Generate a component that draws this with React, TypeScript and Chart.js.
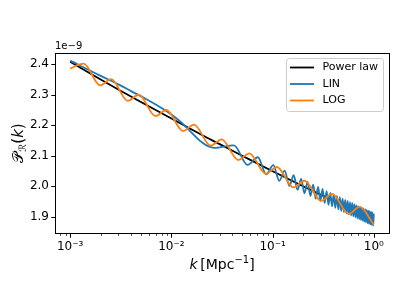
import React, { useEffect, useRef } from 'react';
import { Chart, registerables } from 'chart.js';

Chart.register(...registerables);

// ---- data (units of 1e-9) ----
const POWER_K = [0.001, 0.002, 0.003, 0.005, 0.01, 0.02, 0.03, 0.05, 0.1, 0.2, 0.3, 0.5, 1.0];
const POWER_P = [2.408, 2.350, 2.317, 2.276, 2.222, 2.168, 2.138, 2.100, 2.049, 2.000, 1.972, 1.937, 1.891];

const LIN_K = [
  0.001, 0.002, 0.003, 0.004, 0.0055, 0.007, 0.009, 0.0115,
  0.0265, 0.0415, 0.0565, 0.0715, 0.0865, 0.1015, 0.1165, 0.1315, 0.1465, 0.1615,
  0.1765, 0.1915, 0.2065, 0.2215, 0.2365, 0.2515, 0.2665, 0.2815, 0.2965, 0.3115,
  0.3265, 0.3415, 0.3565, 0.3715, 0.3865, 0.4015, 0.4165, 0.4315, 0.4465, 0.4615,
  0.4765, 0.4915, 0.5065, 0.5215, 0.5365, 0.5515, 0.5665, 0.5815, 0.5965, 0.6115,
  0.6265, 0.6415, 0.6565, 0.6715, 0.6865, 0.7015, 0.7165, 0.7315, 0.7465, 0.7615,
  0.7765, 0.7915, 0.8065, 0.8215, 0.8365, 0.8515, 0.8665, 0.8815, 0.8965, 0.9115,
  0.9265, 0.9415, 0.9565, 0.9715, 0.9865, 1.0,
];
const LIN_P = [
  2.412, 2.362, 2.334, 2.312, 2.288, 2.268, 2.246, 2.220,
  2.126, 2.134, 2.070, 2.095, 2.039, 2.069, 2.018, 2.051, 2.001, 2.036,
  1.988, 2.024, 1.977, 2.014, 1.968, 2.005, 1.959, 1.998, 1.952, 1.991,
  1.945, 1.984, 1.939, 1.978, 1.934, 1.973, 1.929, 1.968, 1.924, 1.964,
  1.919, 1.959, 1.915, 1.955, 1.911, 1.952, 1.908, 1.948, 1.904, 1.945,
  1.901, 1.941, 1.898, 1.938, 1.895, 1.935, 1.892, 1.933, 1.889, 1.930,
  1.887, 1.927, 1.884, 1.925, 1.882, 1.922, 1.879, 1.920, 1.877, 1.918,
  1.875, 1.916, 1.873, 1.914, 1.871, 1.910,
];

const LOG_K = [
  0.001, 0.001357, 0.001978, 0.002543, 0.003708, 0.004766, 0.00695, 0.00893,
  0.01303, 0.01674, 0.02441, 0.03137, 0.04575, 0.0588, 0.08577, 0.1102,
  0.1607, 0.2065, 0.3012, 0.3871, 0.5646, 0.7255, 1.0,
];
const LOG_P = [
  2.386, 2.402, 2.331, 2.351, 2.280, 2.300, 2.230, 2.250,
  2.181, 2.202, 2.133, 2.154, 2.086, 2.108, 2.041, 2.063,
  1.996, 2.018, 1.952, 1.975, 1.909, 1.932, 1.874,
];

const SERIES_NAMES = ['Power law', 'LIN', 'LOG'];
const SERIES_COLORS = ['#000000', '#1f77b4', '#ff7f0e'];

const X_MAJOR = [0.001, 0.01, 0.1, 1];
const X_LABELS = ['10\u207B\u00B3', '10\u207B\u00B2', '10\u207B\u00B9', '10\u2070'];
const Y_TICKS = [1.9, 2.0, 2.1, 2.2, 2.3, 2.4];
const X_MIN = Math.pow(10, -3.15);
const X_MAX = Math.pow(10, 0.15);
const Y_MIN = 1.8466;
const Y_MAX = 2.437;

const FONT = 'DejaVu Sans';

const decorPlugin = {
  id: 'decor',
  afterDraw(chart: any) {
    const { ctx, chartArea: a, scales } = chart;
    const x = scales.x;
    const y = scales.y;
    ctx.save();
    const L = Math.round(a.left) + 0.5;
    const R = Math.round(a.right) + 0.5;
    const T = Math.round(a.top) + 0.5;
    const B = Math.round(a.bottom) + 0.5;
    ctx.strokeStyle = '#000';
    ctx.lineWidth = 1;
    ctx.strokeRect(L, T, R - L, B - T);
    ctx.beginPath();
    for (const v of X_MAJOR) {
      const px = Math.round(x.getPixelForValue(v)) + 0.5;
      ctx.moveTo(px, B);
      ctx.lineTo(px, B + 4.2);
    }
    ctx.stroke();
    ctx.beginPath();
    for (let e = -4; e <= 0; e++) {
      for (let m = 2; m <= 9; m++) {
        const v = m * Math.pow(10, e);
        if (v < X_MIN || v > X_MAX) continue;
        const px = Math.round(x.getPixelForValue(v)) + 0.5;
        ctx.moveTo(px, B);
        ctx.lineTo(px, B + 2.4);
      }
    }
    ctx.lineWidth = 0.7;
    ctx.stroke();
    ctx.lineWidth = 1;
    ctx.beginPath();
    for (const v of Y_TICKS) {
      const py = Math.round(y.getPixelForValue(v)) + 0.5;
      ctx.moveTo(L, py);
      ctx.lineTo(L - 4.2, py);
    }
    ctx.stroke();

    ctx.fillStyle = '#000';
    ctx.font = `10px ${FONT}`;
    ctx.textAlign = 'left';
    ctx.textBaseline = 'alphabetic';
    ctx.fillText('1e\u22129', a.left, a.top - 4);

    const pieces = [
      { t: 'k', f: `italic 14px ${FONT}`, dy: 0 },
      { t: '\u2009[Mpc', f: `14px ${FONT}`, dy: 0 },
      { t: '\u22121', f: `10px ${FONT}`, dy: -6 },
      { t: ']', f: `14px ${FONT}`, dy: 0 },
    ];
    let total = 0;
    for (const p of pieces) { ctx.font = p.f; total += ctx.measureText(p.t).width; }
    let cx = (a.left + a.right) / 2 - total / 2;
    const baseX = 269;
    for (const p of pieces) {
      ctx.font = p.f;
      ctx.fillText(p.t, cx, baseX + p.dy);
      cx += ctx.measureText(p.t).width;
    }

    const ypieces = [
      { t: '\uD835\uDCAB', f: `15px ${FONT}`, dy: 0 },
      { t: '\u211B', f: `10px ${FONT}`, dy: 3 },
      { t: '(', f: `15px ${FONT}`, dy: 0 },
      { t: 'k', f: `italic 15px ${FONT}`, dy: 0 },
      { t: ')', f: `15px ${FONT}`, dy: 0 },
    ];
    let ytotal = 0;
    for (const p of ypieces) { ctx.font = p.f; ytotal += ctx.measureText(p.t).width; }
    ctx.translate(17, (a.top + a.bottom) / 2);
    ctx.rotate(-Math.PI / 2);
    let ux = -ytotal / 2;
    for (const p of ypieces) {
      ctx.font = p.f;
      ctx.fillText(p.t, ux, 5.5 + p.dy);
      ux += ctx.measureText(p.t).width;
    }
    ctx.setTransform(1, 0, 0, 1, 0, 0);

    const lx = 286.5, ly = 58.5, lw = 97, lh = 53, r = 3;
    ctx.beginPath();
    ctx.moveTo(lx + r, ly);
    ctx.lineTo(lx + lw - r, ly);
    ctx.arcTo(lx + lw, ly, lx + lw, ly + r, r);
    ctx.lineTo(lx + lw, ly + lh - r);
    ctx.arcTo(lx + lw, ly + lh, lx + lw - r, ly + lh, r);
    ctx.lineTo(lx + r, ly + lh);
    ctx.arcTo(lx, ly + lh, lx, ly + lh - r, r);
    ctx.lineTo(lx, ly + r);
    ctx.arcTo(lx, ly, lx + r, ly, r);
    ctx.closePath();
    ctx.fillStyle = 'rgba(255,255,255,0.8)';
    ctx.fill();
    ctx.strokeStyle = '#cccccc';
    ctx.lineWidth = 1;
    ctx.stroke();
    const rows = [67.5, 84, 100.5];
    ctx.font = `11px ${FONT}`;
    ctx.textBaseline = 'middle';
    ctx.textAlign = 'left';
    SERIES_NAMES.forEach((name, i) => {
      ctx.strokeStyle = SERIES_COLORS[i];
      ctx.lineWidth = 1.8;
      ctx.beginPath();
      ctx.moveTo(290, rows[i]);
      ctx.lineTo(314, rows[i]);
      ctx.stroke();
      ctx.fillStyle = '#000';
      ctx.fillText(name, 322.5, rows[i]);
    });
    ctx.restore();
  },
};

export default function App() {
  const ref = useRef<HTMLCanvasElement | null>(null);
  useEffect(() => {
    if (!ref.current) return;
    const mk = (ks: number[], ps: number[]) => ks.map((k, i) => ({ x: k, y: ps[i] }));
    const chart = new Chart(ref.current, {
      type: 'line',
      data: {
        datasets: [
          { label: SERIES_NAMES[0], data: mk(POWER_K, POWER_P), borderColor: SERIES_COLORS[0], borderWidth: 1.8, pointRadius: 0, cubicInterpolationMode: 'monotone', order: 3 },
          { label: SERIES_NAMES[1], data: mk(LIN_K, LIN_P), borderColor: SERIES_COLORS[1], borderWidth: 1.8, pointRadius: 0, cubicInterpolationMode: 'monotone', order: 2 },
          { label: SERIES_NAMES[2], data: mk(LOG_K, LOG_P), borderColor: SERIES_COLORS[2], borderWidth: 1.8, pointRadius: 0, cubicInterpolationMode: 'monotone', order: 1 },
        ],
      },
      options: {
        responsive: false,
        animation: false,
        events: [],
        layout: { padding: { left: 0, right: 10, top: 53, bottom: 0 } },
        plugins: { legend: { display: false }, tooltip: { enabled: false }, title: { display: false } },
        scales: {
          x: {
            type: 'logarithmic',
            min: X_MIN,
            max: X_MAX,
            afterBuildTicks: (s: any) => { s.ticks = X_MAJOR.map((v) => ({ value: v })); },
            afterFit: (s: any) => { s.height = 66; },
            grid: { display: false, drawTicks: true, tickLength: 4 },
            border: { display: false },
            ticks: {
              autoSkip: false,
              maxRotation: 0,
              padding: 3,
              color: '#000',
              font: { family: FONT, size: 12 },
              callback: (v: any) => {
                const i = X_MAJOR.findIndex((m) => Math.abs(m - Number(v)) / m < 1e-6);
                return i >= 0 ? X_LABELS[i] : '';
              },
            },
          },
          y: {
            type: 'linear',
            min: Y_MIN,
            max: Y_MAX,
            afterBuildTicks: (s: any) => { s.ticks = Y_TICKS.map((v) => ({ value: v })); },
            afterFit: (s: any) => { s.width = 55; },
            grid: { display: false, drawTicks: true, tickLength: 4 },
            border: { display: false },
            ticks: {
              padding: 2,
              color: '#000',
              font: { family: FONT, size: 12 },
              callback: (v: any) => Number(v).toFixed(1),
            },
          },
        },
      },
      plugins: [decorPlugin],
    });
    return () => chart.destroy();
  }, []);
  return (
    <div style={{ position: 'fixed', left: 0, top: 0, width: 399, height: 299, background: '#fff' }}>
      <canvas ref={ref} width={399} height={299} style={{ width: 399, height: 299, display: 'block' }} />
    </div>
  );
}
